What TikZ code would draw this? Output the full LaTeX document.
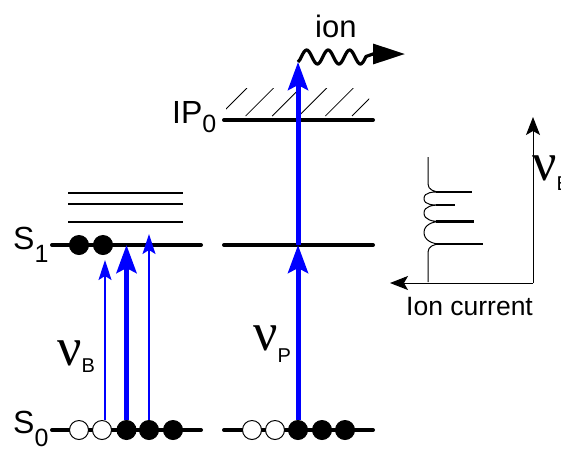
\documentclass[tikz,border=0pt]{standalone}
\usepackage{fontspec}
\setmainfont{Liberation Sans}
\newfontfamily\nufont{Liberation Serif}
\usetikzlibrary{arrows.meta}
\definecolor{PumpBlue}{HTML}{0000FF}
\newcommand{\lvlname}[3]{{\fontsize{32}{32}\selectfont #1}\raisebox{-#3pt}{\fontsize{25}{25}\selectfont #2}}
\newcommand{\freq}[2]{{\nufont\fontsize{54}{54}\selectfont ν}\raisebox{-#2pt}{\fontsize{20}{20}\selectfont #1}}

\begin{document}
\begin{tikzpicture}[
    x=1pt, y=-1pt,
    level/.style={line width=4pt, line cap=round},
    sublevel/.style={line width=1.5pt},
    occ/.style={circle, draw, fill=black, minimum size=19pt, inner sep=0pt, line width=1pt},
    unocc/.style={occ, fill=white},
    thinexc/.style={PumpBlue, line width=1.3pt, -{Stealth[length=20pt, width=13pt, inset=4pt]}},
    thickexc/.style={PumpBlue, line width=5pt, -{Stealth[length=28pt, width=20pt, inset=5pt]}},
    axis/.style={line width=1pt, -{Stealth[length=18pt, width=14pt, inset=4pt]}},
    hatch/.style={line width=0.8pt},
    wave/.style={line width=3.2pt, line join=round, -{Triangle[length=32pt, width=20pt]}},
    trace/.style={line width=1pt},
    peak/.style={line width=2.2pt},
    lbl/.style={inner sep=0pt, anchor=base west}
  ]
    \useasboundingbox (0,0) rectangle (561,448);

    % energy levels
    \coordinate (S1l) at (52,245);  \coordinate (S1r) at (201,245);
    \coordinate (S0l) at (52,430);  \coordinate (S0r) at (201,430);
    \coordinate (P1l) at (224,245); \coordinate (P1r) at (373,245);
    \coordinate (P0l) at (224,430); \coordinate (P0r) at (373,430);
    \coordinate (IPl) at (224,120); \coordinate (IPr) at (373,120);
    \draw[level] (S1l) -- (S1r);
    \draw[level] (S0l) -- (S0r);
    \draw[level] (P1l) -- (P1r);
    \draw[level] (P0l) -- (P0r);
    \draw[level] (IPl) -- (IPr);
    \foreach \y in {193,204,222}
      \draw[sublevel] (68,\y) -- (183,\y);

    % continuum above IP
    \begin{scope}
      \clip (226,88) rectangle (369,117);
      \foreach \k in {0,...,5}
        \draw[hatch] ({219+26.6*\k},116) -- ++(28,-28);
    \end{scope}

    % populations
    \foreach \x/\f [count=\i] in {79/unocc,102/unocc,126.5/occ,149/occ,173/occ}
      \node[\f] (a\i) at (\x,430) {};
    \foreach \x/\f [count=\i] in {252/unocc,275/unocc,298/occ,322/occ,345/occ}
      \node[\f] (b\i) at (\x,430) {};
    \node[occ] (e1) at (79,245) {};
    \node[occ] (e2) at (103,245) {};

    % excitation
    \coordinate (t1) at (105,260);
    \coordinate (t2) at (126.5,245);
    \coordinate (t3) at (149,234);
    \coordinate (pm) at (298,245);
    \coordinate (ionstart) at (298,62);
    \draw[thinexc] ([xshift=3pt]a2.north) -- (t1);
    \draw[thickexc] (a3.north) -- (t2);
    \draw[thinexc] (a4.north) -- (t3);
    \draw[thickexc] (b3.north) -- (pm);
    \draw[thickexc] (pm) -- (ionstart);

    % ion
    \coordinate (ionbend) at (373,54);
    \coordinate (iontip) at (405,54);
    \draw[wave] (ionstart) -- plot[domain=300:366, samples=80] (\x,{57+7*sin(16.744*(\x-312))})
      -- (ionbend) -- (iontip);

    % spectrum
    \coordinate (orig) at (533,283);
    \coordinate (vtip) at (533,117);
    \coordinate (htip) at (390,283);
    \draw[axis] (orig) -- (vtip);
    \draw[axis] (orig) -- (htip);
    \draw[trace] (428,157) -- (428,184) to[out=-90,in=180] (440,192)
      to[out=180,in=90] (424,198.5) to[out=-90,in=180] (440,205)
      to[out=180,in=90] (424,213) to[out=-90,in=180] (440,221.5)
      to[out=180,in=90] (424,232.5) to[out=-90,in=180] (440,244)
      to[out=180,in=90] (428,252) -- (428,282);
    \foreach \y/\h in {192/472,205/455,221.5/474,244/483}
      \draw[peak] (436,\y) -- (\h,\y);

    % labels
    \node[lbl] (S1lab) at (13,249) {\lvlname{S}{1}{13}};
    \node[lbl] (S0lab) at (13,433) {\lvlname{S}{0}{13}};
    \node[lbl] (IPlab) at (172,123) {\lvlname{IP}{0}{9}};
    \node[lbl] (nuB) at (57,365) {\freq{B}{7}};
    \node[lbl] (nuP) at (253,350) {\freq{P}{12}};
    \node[lbl] (nuBax) at (532,180) {\freq{B}{10}};
    \node[lbl] (ionlab) at (315,37) {\fontsize{31}{31}\selectfont ion};
    \node[lbl] (curlab) at (406,315) {\fontsize{26.5}{26.5}\selectfont Ion current};
\end{tikzpicture}
\end{document}
